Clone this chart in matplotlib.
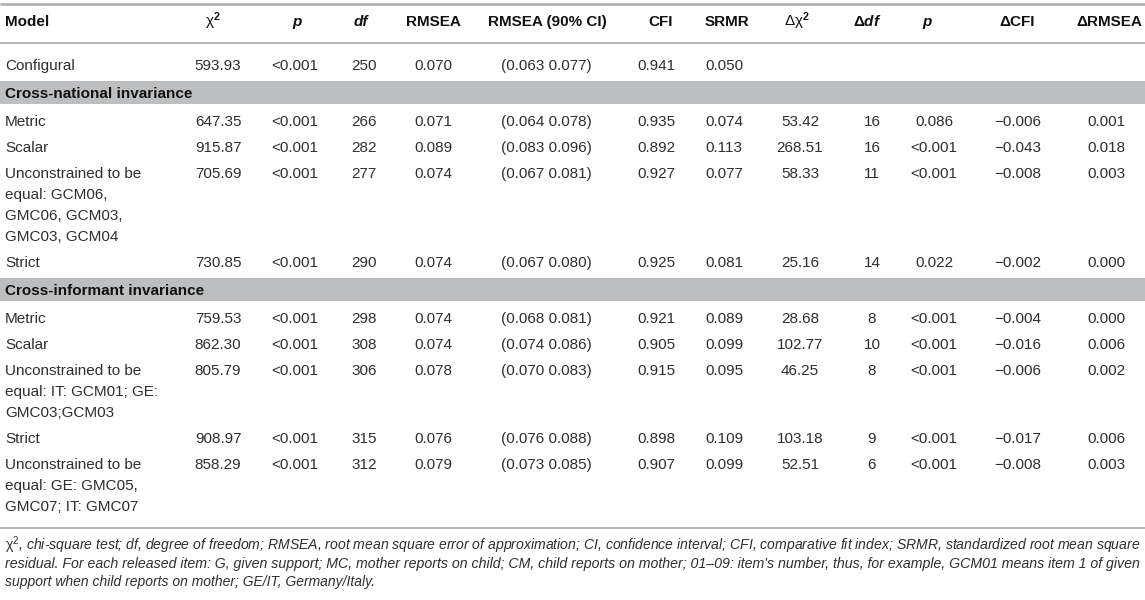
import matplotlib
matplotlib.use("Agg")
import matplotlib.pyplot as plt

plt.rcParams['font.family'] = ['Liberation Sans', 'DejaVu Sans']
plt.rcParams['mathtext.fontset'] = 'custom'
plt.rcParams['mathtext.rm'] = 'Liberation Sans'
plt.rcParams['mathtext.it'] = 'Liberation Sans:italic'
plt.rcParams['mathtext.bf'] = 'Liberation Sans:bold'
plt.rcParams['mathtext.bfit'] = 'Liberation Sans:italic:bold'

# table content
headers = ["Model", r"$\mathrm{χ}^{\mathbf{2}}$", "p", "df", "RMSEA", "RMSEA (90% CI)", "CFI", "SRMR",
           r"$\mathrm{Δχ}^{\mathbf{2}}$", r"$\mathbf{Δ}\mathbfit{df}$", "p", "ΔCFI", "ΔRMSEA"]
italic_headers = [2, 3, 10]

models = ["Configural",
          "Metric", "Scalar",
          "Unconstrained to be\nequal: GCM06,\nGMC06, GCM03,\nGMC03, GCM04",
          "Strict",
          "Metric", "Scalar",
          "Unconstrained to be\nequal: IT: GCM01; GE:\nGMC03;GCM03",
          "Strict",
          "Unconstrained to be\nequal: GE: GMC05,\nGMC07; IT: GMC07"]
sections = {1: "Cross-national invariance", 5: "Cross-informant invariance"}

chi2 = ["593.93", "647.35", "915.87", "705.69", "730.85", "759.53", "862.30", "805.79", "908.97", "858.29"]
pval = ["<0.001"] * 10
df = ["250", "266", "282", "277", "290", "298", "308", "306", "315", "312"]
rmsea = ["0.070", "0.071", "0.089", "0.074", "0.074", "0.074", "0.074", "0.078", "0.076", "0.079"]
rmsea_ci = ["(0.063 0.077)", "(0.064 0.078)", "(0.083 0.096)", "(0.067 0.081)", "(0.067 0.080)",
            "(0.068 0.081)", "(0.074 0.086)", "(0.070 0.083)", "(0.076 0.088)", "(0.073 0.085)"]
cfi = ["0.941", "0.935", "0.892", "0.927", "0.925", "0.921", "0.905", "0.915", "0.898", "0.907"]
srmr = ["0.050", "0.074", "0.113", "0.077", "0.081", "0.089", "0.099", "0.095", "0.109", "0.099"]
d_chi2 = ["", "53.42", "268.51", "58.33", "25.16", "28.68", "102.77", "46.25", "103.18", "52.51"]
d_df = ["", "16", "16", "11", "14", "8", "10", "8", "9", "6"]
d_p = ["", "0.086", "<0.001", "<0.001", "0.022", "<0.001", "<0.001", "<0.001", "<0.001", "<0.001"]
d_cfi = ["", "\u22120.006", "\u22120.043", "\u22120.008", "\u22120.002", "\u22120.004", "\u22120.016",
         "\u22120.006", "\u22120.017", "\u22120.008"]
d_rmsea = ["", "0.001", "0.018", "0.003", "0.000", "0.000", "0.006", "0.002", "0.006", "0.003"]

columns = [chi2, pval, df, rmsea, rmsea_ci, cfi, srmr, d_chi2, d_df, d_p, d_cfi, d_rmsea]

footnote = [
    r"$\mathrm{χ}^{2}$, chi-square test; df, degree of freedom; RMSEA, root mean square error of approximation; "
    "CI, confidence interval; CFI, comparative fit index; SRMR, standardized root mean square",
    "residual. For each released item: G, given support; MC, mother reports on child; CM, child reports on "
    "mother; 01\u201309: item's number, thus, for example, GCM01 means item 1 of given",
    "support when child reports on mother; GE/IT, Germany/Italy.",
]

# layout (pixels)
W, H = 1145, 600
head_x = [5, 213, 297, 361, 433, 547, 661, 727, 797, 867, 927, 1017, 1109]
val_x = [5, 218, 295, 364, 433, 546, 656, 724, 800, 872, 934, 1018, 1106]
fs = 11
base = 5  # baseline offset below a row's visual centre
text_c = "#2e2e2e"
line_c = "#a7a9ac"
band_c = "#bcbec0"

fig = plt.figure(figsize=(W / 100, H / 100), dpi=100)
ax = fig.add_axes([0, 0, 1, 1])
ax.set_xlim(0, W)
ax.set_ylim(H, 0)
ax.axis("off")

ax.plot([0, W], [4, 4], color=line_c, lw=1.8, solid_capstyle="butt")
ax.plot([0, W], [43, 43], color=line_c, lw=1.2, solid_capstyle="butt")

for i, h in enumerate(headers):
    style = "italic" if i in italic_headers else "normal"
    ax.text(head_x[i], 21 + base, h, ha="left" if i == 0 else "center", va="baseline",
            fontsize=fs, fontweight="bold", fontstyle=style, color="#111111")

line_h = 21
y = 65
for r, m in enumerate(models):
    if r in sections:
        top = y - 10
        ax.add_patch(plt.Rectangle((0, top), W, 23, color=band_c, lw=0))
        ax.text(5, top + 12 + base, sections[r], ha="left", va="baseline", fontsize=fs,
                fontweight="bold", color="#111111")
        y = top + 23 + 17
    lines = m.split("\n")
    for k, ln in enumerate(lines):
        ax.text(5, y + k * line_h + base, ln, ha="left", va="baseline", fontsize=fs, color=text_c)
    for c, col in enumerate(columns):
        ax.text(val_x[c + 1], y + base, col[r], ha="center", va="baseline", fontsize=fs, color=text_c)
    last = y + (len(lines) - 1) * line_h
    y = y + 26 + (len(lines) - 1) * line_h

bottom = last + 22
ax.plot([0, W], [bottom, bottom], color=line_c, lw=1.2, solid_capstyle="butt")

# footnote: first two lines stretched to the full width (justified look)
renderer = fig.canvas.get_renderer()
ffs = 10
fy = [bottom + 22, bottom + 40, bottom + 58]
for li, txt in enumerate(footnote):
    t = ax.text(5, fy[li], txt, ha="left", va="baseline", fontsize=ffs,
                fontstyle="italic", color=text_c)
    if li < len(footnote) - 1:
        wd = t.get_window_extent(renderer).width
        t.set_fontsize(ffs * (W - 9) / wd)

fig.savefig("out.png", dpi=100)
